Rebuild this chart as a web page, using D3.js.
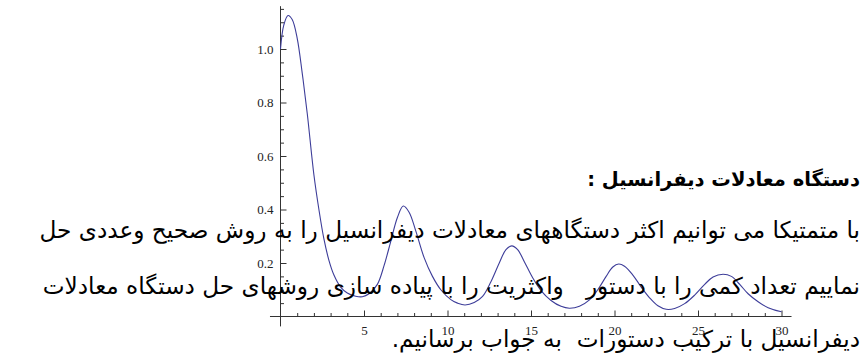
<!DOCTYPE html>
<html>
<head>
<meta charset="utf-8">
<script src="https://cdn.jsdelivr.net/npm/d3@7/dist/d3.min.js"></script>
<style>
  html, body { margin: 0; padding: 0; background: #fff; }
  svg { display: block; }
  .fa { font-family: "DejaVu Sans", sans-serif; fill: #000; white-space: pre; }
</style>
</head>
<body>
<svg id="chart" width="865" height="358"></svg>
<script>
// Solution curve samples (t, y)
const tValues = [0, 0.2, 0.45, 0.7, 1.0, 1.3, 1.6, 2.0, 2.3, 2.6, 2.9, 3.2, 3.6, 4.0, 4.5, 4.9,
  5.3, 5.8, 6.2, 6.6, 7.0, 7.35, 7.7, 8.1, 8.6, 9.1, 9.6, 10.2, 10.6, 11.05,
  11.6, 12.1, 12.6, 13.1, 13.5, 13.85, 14.2, 14.6, 15.1, 15.6, 16.2, 16.8, 17.3,
  17.9, 18.5, 19.0, 19.5, 19.9, 20.25, 20.6, 21.1, 21.6, 22.1, 22.6, 23.1,
  23.6, 24.2, 24.8, 25.4, 25.9, 26.5, 27.0, 27.5, 28.0, 28.6, 29.2, 30];
const yValues = [1.00, 1.09, 1.125, 1.11, 1.04, 0.91, 0.76, 0.53, 0.40, 0.29, 0.21, 0.155, 0.11, 0.088, 0.076, 0.074,
  0.085, 0.12, 0.19, 0.28, 0.37, 0.413, 0.39, 0.32, 0.22, 0.15, 0.10, 0.063, 0.05, 0.043,
  0.052, 0.075, 0.13, 0.20, 0.25, 0.264, 0.25, 0.205, 0.145, 0.097, 0.06, 0.038, 0.031,
  0.038, 0.062, 0.10, 0.15, 0.185, 0.196, 0.188, 0.155, 0.11, 0.07, 0.04, 0.027,
  0.03, 0.048, 0.08, 0.12, 0.148, 0.158, 0.15, 0.12, 0.085, 0.055, 0.033, 0.018];

// Tick values and labels
const xMajorTicks = [5, 10, 15, 20, 25, 30];
const xMinorTicks = [1, 2, 3, 4, 6, 7, 8, 9, 11, 12, 13, 14, 16, 17, 18, 19, 21, 22, 23, 24, 26, 27, 28, 29];
const yMajorTicks = [0.2, 0.4, 0.6, 0.8, 1.0];
const yMinorTicks = [0.05, 0.1, 0.15, 0.25, 0.3, 0.35, 0.45, 0.5, 0.55, 0.65, 0.7, 0.75, 0.85, 0.9, 0.95, 1.05, 1.1, 1.15];

// Persian paragraph lines
const titleLine = "دستگاه معادلات دیفرانسیل :";
const bodyLines = [
  "با متمتیکا می توانیم اکثر دستگاههای معادلات دیفرانسیل را به روش صحیح وعددی حل",
  "نماییم تعداد کمی را با دستور   واکثریت را با پیاده سازی روشهای حل دستگاه معادلات",
  "دیفرانسیل با ترکیب دستورات  به جواب برسانیم."
];

const svg = d3.select("#chart");

const x = d3.scaleLinear().domain([0, 30]).range([280.5, 781.5]);
const y = d3.scaleLinear().domain([0, 1]).range([316.5, 49]);

const axisColor = "#333";
const tickFont = "'Liberation Serif', 'Times New Roman', serif";

// axis lines
svg.append("line")
  .attr("x1", x(-0.63)).attr("x2", x(30.6))
  .attr("y1", y(0)).attr("y2", y(0))
  .attr("stroke", axisColor).attr("stroke-width", 1);
svg.append("line")
  .attr("x1", x(0)).attr("x2", x(0))
  .attr("y1", y(-0.037)).attr("y2", y(1.16))
  .attr("stroke", axisColor).attr("stroke-width", 1);

// x axis: ticks pointing up, labels below
const gx = svg.append("g").attr("transform", `translate(0,${y(0)})`);
gx.append("g")
  .call(d3.axisBottom(x).tickValues(xMinorTicks).tickSize(-3.5).tickFormat(""))
  .call(g => g.select(".domain").remove());
gx.append("g")
  .call(d3.axisBottom(x).tickValues(xMajorTicks).tickSize(-6).tickPadding(9).tickFormat(d3.format("d")))
  .call(g => g.select(".domain").remove())
  .attr("font-family", tickFont)
  .attr("font-size", 13);

// y axis: ticks pointing right, labels left
const gy = svg.append("g").attr("transform", `translate(${x(0)},0)`);
gy.append("g")
  .call(d3.axisLeft(y).tickValues(yMinorTicks).tickSize(-3.5).tickFormat(""))
  .call(g => g.select(".domain").remove());
gy.append("g")
  .call(d3.axisLeft(y).tickValues(yMajorTicks).tickSize(-6).tickPadding(7).tickFormat(d3.format(".1f")))
  .call(g => g.select(".domain").remove())
  .attr("font-family", tickFont)
  .attr("font-size", 13);

svg.selectAll(".tick line").attr("stroke", axisColor);
svg.selectAll(".tick text").attr("fill", "#222");

// curve
const pts = tValues.map((t, i) => [t, yValues[i]]);
svg.append("path")
  .datum(pts)
  .attr("fill", "none")
  .attr("stroke", "#3d3d99")
  .attr("stroke-width", 1.1)
  .attr("d", d3.line().x(d => x(d[0])).y(d => y(d[1])).curve(d3.curveCatmullRom.alpha(0.5)));

// paragraph text (right-to-left)
const textRight = 860;
svg.append("text")
  .attr("class", "fa")
  .attr("x", textRight).attr("y", 186)
  .attr("direction", "rtl")
  .attr("text-anchor", "start")
  .attr("font-size", 19.5)
  .attr("font-weight", "bold")
  .text(titleLine);

const baselines = [238, 294, 347];
bodyLines.forEach((s, i) => {
  svg.append("text")
    .attr("class", "fa")
    .attr("x", textRight).attr("y", baselines[i])
    .attr("direction", "rtl")
    .attr("text-anchor", "start")
    .attr("font-size", 23.2)
    .text(s);
});
</script>
</body>
</html>
